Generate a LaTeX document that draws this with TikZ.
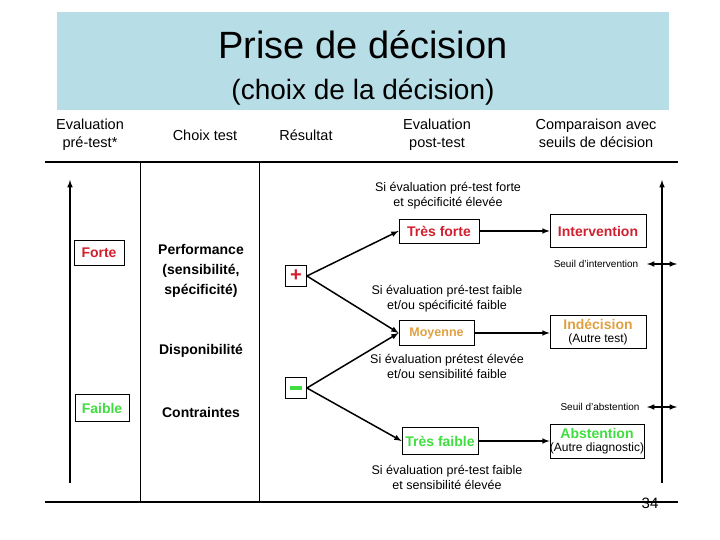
\documentclass[tikz,border=0pt]{standalone}
\usepackage{fontspec}
\setmainfont{Liberation Sans}
\definecolor{titlebg}{HTML}{B7DEE6}
\definecolor{rd}{HTML}{D02030}
\definecolor{org}{HTML}{E0A040}
\definecolor{grn}{HTML}{40DD40}
\newcommand{\fs}[1]{\fontsize{#1}{#1}\selectfont}
\tikzset{
  bx/.style={draw,line width=0.8pt,inner sep=1pt},
  hd/.style={align=center,font=\fontsize{14.5}{18}\selectfont},
  bd/.style={align=center,font=\fontsize{14}{20}\selectfont\bfseries},
  sm/.style={align=center,font=\fontsize{12.5}{15}\selectfont},
  tiny/.style={font=\fontsize{10}{12}\selectfont},
  ar/.style={line width=1.5pt,-latex},
  dar/.style={line width=1.5pt,latex-latex},
}
\begin{document}
\begin{tikzpicture}[x=1pt,y=-1pt]
\useasboundingbox (0,0) rectangle (720,540);
\fill[titlebg] (57,12) rectangle (669,110);
\node (t1) at (363,45) {\fs{38}Prise de décision};
\node (t2) at (363,92) {\fs{28}(choix de la décision)};
\node[hd] (h1) at (90,135) {Evaluation\\pré-test*};
\node[hd] (h2) at (205,135) {Choix test};
\node[hd] (h3) at (306,135) {Résultat};
\node[hd] (h4) at (437,135) {Evaluation\\post-test};
\node[hd] (h5) at (596,133) {Comparaison avec\\seuils de décision};
\draw[line width=1.5pt] (45,162) -- (678,162);
\draw[line width=1.5pt] (45,502) -- (678,502);
\draw[line width=0.7pt] (140,162) -- (140,502);
\draw[line width=0.7pt] (259,162) -- (259,502);
\coordinate (la) at (70,483); \coordinate (lb) at (70,180);
\draw[ar] (la) -- (lb);
\coordinate (ra) at (662,483); \coordinate (rb) at (662,180);
\draw[ar] (ra) -- (rb);
\node[bx,text=rd,font=\bfseries\fs{14},minimum width=50pt,minimum height=25pt] (forte) at (99,253) {Forte};
\node[bx,text=grn,font=\bfseries\fs{14},minimum width=54pt,minimum height=27pt] (faible) at (102,408) {Faible};
\node[bd] (perf) at (201,271) {Performance\\(sensibilité,\\spécificité)};
\node[bd] (dispo) at (201,351) {Disponibilité};
\node[bd] (contr) at (201,412) {Contraintes};
\node[bx,text=rd,font=\bfseries\fs{20},minimum width=21pt,minimum height=21pt,inner sep=0pt] (plus) at (296,276) {+};
\node[bx,text=grn,minimum width=21pt,minimum height=21pt,inner sep=0pt] (minus) at (296,388) {\rule[-1pt]{12pt}{4pt}};
\node[bx,text=rd,font=\bfseries\fs{14},minimum width=80pt,minimum height=24pt] (tf) at (439,231) {Très forte};
\node[bx,text=org,font=\bfseries\fs{12.5},minimum width=75pt,minimum height=25pt] (moy) at (436.5,333) {Moyenne};
\node[bx,text=grn,font=\bfseries\fs{14},minimum width=76pt,minimum height=27pt] (tfa) at (440,441) {Très faible};
\node[bx,align=center,minimum width=96pt,minimum height=33pt] (int) at (598,231) {\fs{14}\bfseries\color{rd}Intervention};
\node[bx,align=center,minimum width=96pt,minimum height=33pt,inner sep=0pt] (ind) at (598,332) {{\fs{14}\bfseries\color{org}Indécision}\\[1pt]\fs{12}(Autre test)};
\node[bx,align=center,minimum width=94pt,minimum height=34pt,inner sep=0pt] (abs) at (597,441) {{\fs{14}\bfseries\color{grn}Abstention}\\[1pt]\fs{12}(Autre diagnostic)};
\draw[ar] (plus.east) -- (tf.west);
\draw[ar] (plus.east) -- (moy.west);
\draw[ar] (minus.east) -- (moy.west);
\draw[ar] (minus.east) -- (tfa.west);
\draw[ar] (tf) -- (int);
\draw[ar] (moy) -- (ind.west |- moy);
\draw[ar] (tfa) -- (abs.west |- tfa);
\node[sm] (s1) at (448,196) {Si évaluation pré-test forte\\et spécificité élevée};
\node[sm] (s2) at (447,299) {Si évaluation pré-test faible\\et/ou spécificité faible};
\node[sm] (s3) at (447,366) {Si évaluation prétest élevée\\et/ou sensibilité faible};
\node[sm] (s4) at (447,477) {Si évaluation pré-test faible\\et sensibilité élevée};
\coordinate (d1a) at (647,264); \coordinate (d1b) at (677,264);
\draw[dar] (d1a) -- (d1b);
\coordinate (d2a) at (647,407); \coordinate (d2b) at (677,407);
\draw[dar] (d2a) -- (d2b);
\node[tiny] (seuil1) at (596,264) {Seuil d'intervention};
\node[tiny] (seuil2) at (600,407) {Seuil d'abstention};
\node[font=\fs{15}] (pg) at (650,503) {34};
\end{tikzpicture}
\end{document}
